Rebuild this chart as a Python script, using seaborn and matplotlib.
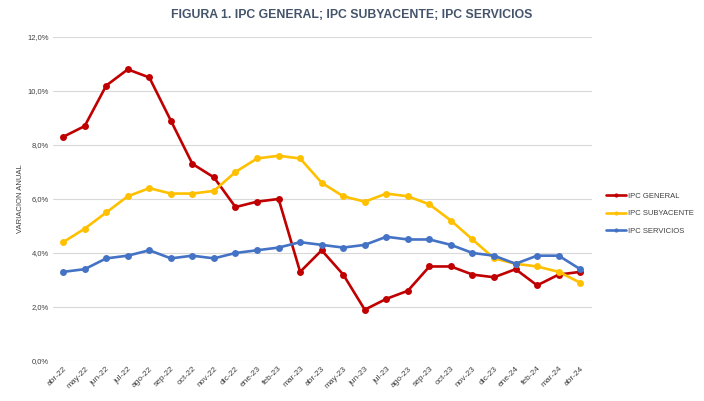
import pandas as pd
import numpy as np
import matplotlib
matplotlib.use('Agg')
import matplotlib.pyplot as plt
import seaborn as sns

sns.set_style('white')
plt.rcParams['font.family'] = ['Liberation Sans Narrow', 'Liberation Sans', 'DejaVu Sans']

meses = ['abr-22', 'may-22', 'jun-22', 'jul-22', 'ago-22', 'sep-22', 'oct-22', 'nov-22',
         'dic-22', 'ene-23', 'feb-23', 'mar-23', 'abr-23', 'may-23', 'jun-23', 'jul-23',
         'ago-23', 'sep-23', 'oct-23', 'nov-23', 'dic-23', 'ene-24', 'feb-24', 'mar-24', 'abr-24']

ipc_general = [8.3, 8.7, 10.2, 10.8, 10.5, 8.9, 7.3, 6.8, 5.7, 5.9, 6.0, 3.3, 4.1, 3.2,
               1.9, 2.3, 2.6, 3.5, 3.5, 3.2, 3.1, 3.4, 2.8, 3.2, 3.3]
ipc_subyacente = [4.4, 4.9, 5.5, 6.1, 6.4, 6.2, 6.2, 6.3, 7.0, 7.5, 7.6, 7.5, 6.6, 6.1,
                  5.9, 6.2, 6.1, 5.8, 5.2, 4.5, 3.8, 3.6, 3.5, 3.3, 2.9]
ipc_servicios = [3.3, 3.4, 3.8, 3.9, 4.1, 3.8, 3.9, 3.8, 4.0, 4.1, 4.2, 4.4, 4.3, 4.2,
                 4.3, 4.6, 4.5, 4.5, 4.3, 4.0, 3.9, 3.6, 3.9, 3.9, 3.4]

series = ['IPC GENERAL', 'IPC SUBYACENTE', 'IPC SERVICIOS']
colores = ['#C00000', '#FFC000', '#4472C4']

df = pd.DataFrame({
    'mes': meses * 3,
    'pos': list(range(len(meses))) * 3,
    'valor': ipc_general + ipc_subyacente + ipc_servicios,
    'serie': [series[0]] * len(meses) + [series[1]] * len(meses) + [series[2]] * len(meses),
})

fig = plt.figure(figsize=(7.04, 4.01), dpi=100)
ax = fig.add_axes([0.075, 0.0998, 0.766, 0.808])

sns.lineplot(data=df, x='pos', y='valor', hue='serie', hue_order=series,
             palette=colores, marker='o', markersize=5, markeredgewidth=0,
             linewidth=1.9, ax=ax)

ax.set_xlim(-0.48, len(meses) - 0.45)
ax.set_ylim(0, 12)
ax.set_yticks(np.arange(0, 13, 2))
ax.set_yticklabels([f'{v:.1f}%'.replace('.', ',') for v in np.arange(0, 13, 2)],
                   fontsize=5.5, color='#404040')
ax.set_xticks(range(len(meses)))
ax.set_xticklabels(meses, rotation=45, ha='right', rotation_mode='anchor',
                   fontsize=6, color='#404040')
ax.tick_params(axis='both', length=0, pad=3)
ax.yaxis.grid(True, color='#D9D9D9', linewidth=0.8)
ax.set_axisbelow(True)
for s in ax.spines.values():
    s.set_visible(False)

ax.set_xlabel('')
ax.set_ylabel('VARIACION ANUAL', fontsize=5.5, color='#404040', labelpad=2)

leg = ax.legend(loc='center left', bbox_to_anchor=(1.013, 0.455), frameon=False,
                fontsize=5.5, handlelength=2.6, labelspacing=1.3, handletextpad=0.3,
                labelcolor='#404040', markerscale=0.6)

fig.text(0.5, 0.962, 'FIGURA 1. IPC GENERAL; IPC SUBYACENTE; IPC SERVICIOS',
         ha='center', va='center', fontsize=8.8, fontweight='bold', color='#44546A')

fig.savefig('out.png', dpi=100)
